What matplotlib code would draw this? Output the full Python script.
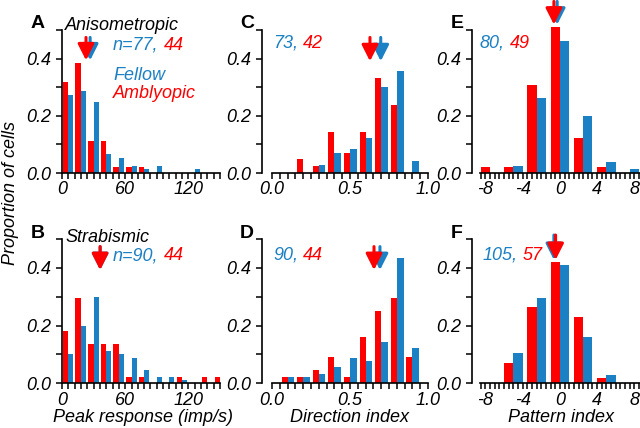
import numpy as np
import matplotlib.pyplot as plt

plt.rcParams['font.family'] = ['Liberation Sans', 'DejaVu Sans']
plt.rcParams['font.style'] = 'italic'
plt.rcParams['font.size'] = 13
plt.rcParams['axes.unicode_minus'] = False

RED = '#ff0000'
BLUE = '#1b80c4'

# cell counts per bin (amblyopic = red, fellow = blue)
peak_centers = np.arange(6, 156, 12)
aniso_peak_amb = [14, 17, 5, 5, 1, 1, 1, 0, 0, 0, 0, 0, 0]
aniso_peak_fel = [21, 22, 19, 5, 4, 2, 1, 2, 0, 0, 1, 0, 0]
strab_peak_amb = [8, 13, 6, 6, 6, 1, 1, 0, 0, 1, 0, 1, 1]
strab_peak_fel = [9, 18, 27, 10, 9, 8, 4, 2, 2, 1, 0, 0, 0]

dir_centers = np.round(np.arange(0.1, 0.95, 0.1), 2)
aniso_dir_amb = [0, 2, 1, 6, 3, 6, 14, 10, 0]
aniso_dir_fel = [0, 0, 2, 5, 6, 9, 22, 26, 3]
strab_dir_amb = [1, 1, 2, 4, 1, 7, 11, 13, 4]
strab_dir_fel = [2, 2, 3, 5, 8, 7, 13, 39, 11]

pat_centers = np.arange(-7.5, 8, 2.5)
aniso_pat_amb = [1, 1, 15, 25, 6, 1, 0]
aniso_pat_fel = [0, 2, 21, 37, 16, 3, 1]
strab_pat_amb = [0, 4, 15, 24, 13, 1, 0]
strab_pat_fel = [0, 11, 31, 43, 17, 3, 0]

# population means shown by arrows (amblyopic, fellow)
aniso_peak_mean = (22.8, 26.7)
strab_peak_mean = (36.2, 36.2)
aniso_dir_mean = (0.628, 0.697)
strab_dir_mean = (0.654, 0.692)
aniso_pat_mean = (-0.64, -0.29)
strab_pat_mean = (-0.46, -0.64)

W, H = 640, 428
fig = plt.figure(figsize=(W / 100, H / 100), dpi=100)
renderer = fig.canvas.get_renderer()


def px_axes(left, right, bottom, top):
    return fig.add_axes([left / W, 1 - bottom / H, (right - left) / W, (bottom - top) / H])


def fig_text(x, y, s, **kw):
    return fig.text(x / W, 1 - y / H, s, **kw)


def draw_panel(ax, centers, amb, fel, wr, wb, xlim, bounds, major, labels, minor):
    amb = np.array(amb) / sum(amb)
    fel = np.array(fel) / sum(fel)
    ax.bar(centers, amb, width=-wr, align='edge', color=RED, clip_on=False, zorder=2)
    ax.bar(centers, fel, width=wb, align='edge', color=BLUE, clip_on=False, zorder=2)
    ax.set_xlim(*xlim)
    ax.set_ylim(0, 0.5)
    for s in ['top', 'right']:
        ax.spines[s].set_visible(False)
    ax.spines['left'].set_bounds(0, 0.5)
    ax.spines['bottom'].set_bounds(*bounds)
    for s in ['left', 'bottom']:
        ax.spines[s].set_linewidth(1.2)
    ax.set_yticks([0, 0.2, 0.4])
    ax.set_yticklabels(['0.0', '0.2', '0.4'])
    ax.set_yticks([0.1, 0.3, 0.5], minor=True)
    ax.set_xticks(major)
    ax.set_xticklabels(labels)
    ax.set_xticks(minor, minor=True)
    ax.tick_params(which='both', direction='out', length=4, width=1.1)
    ax.tick_params(axis='y', pad=4)
    ax.tick_params(axis='x', pad=2)
    ax.patch.set_visible(False)


def arrows(ax, means, tip, top):
    for x, c in [(means[1], BLUE), (means[0], RED)]:
        ax.annotate('', xy=(x, tip), xytext=(x, top),
                    arrowprops=dict(arrowstyle='-|>,head_width=0.38,head_length=0.75',
                                    color=c, lw=2.2, shrinkA=0, shrinkB=0),
                    annotation_clip=False)


def two_color(x, y, s1, s2):
    # blue part then red part, spaced like one string
    full = fig_text(x, y, s1 + ' ' + s2, va='center', alpha=0)
    tail = fig_text(x, y, s2, va='center', alpha=0)
    shift = full.get_window_extent(renderer).width - tail.get_window_extent(renderer).width
    full.remove()
    tail.remove()
    fig_text(x, y, s1, va='center', color=BLUE)
    fig_text(x + shift, y, s2, va='center', color=RED)


rows = [(173, 30), (383.3, 238.8)]
peak_major, peak_labels = [0, 60, 120], ['0', '60', '120']
peak_minor = np.arange(0, 151, 6)
dir_major, dir_labels = [0, 0.5, 1.0], ['0.0', '0.5', '1.0']
dir_minor = np.linspace(0, 1, 21)
pat_major, pat_labels = [-8, -4, 0, 4, 8], ['-8', '-4', '0', '4', '8']
pat_minor = np.arange(-8.5, 8.6, 0.5)

axA = px_axes(62, 220, *rows[0])
axB = px_axes(62, 220, *rows[1])
axC = px_axes(262, 428, *rows[0])
axD = px_axes(262, 428, *rows[1])
axE = px_axes(472, 640, *rows[0])
axF = px_axes(472, 640, *rows[1])

draw_panel(axA, peak_centers, aniso_peak_amb, aniso_peak_fel, 5.2, 4.8,
           (0, 150), (0, 150), peak_major, peak_labels, peak_minor)
draw_panel(axB, peak_centers, strab_peak_amb, strab_peak_fel, 5.2, 4.8,
           (0, 150), (0, 150), peak_major, peak_labels, peak_minor)
draw_panel(axC, dir_centers, aniso_dir_amb, aniso_dir_fel, 0.038, 0.043,
           (-0.064, 1.0), (0, 1.0), dir_major, dir_labels, dir_minor)
draw_panel(axD, dir_centers, strab_dir_amb, strab_dir_fel, 0.038, 0.043,
           (-0.064, 1.0), (0, 1.0), dir_major, dir_labels, dir_minor)
draw_panel(axE, pat_centers, aniso_pat_amb, aniso_pat_fel, 1.0, 1.0,
           (-9.43, 8.6), (-8.6, 8.6), pat_major, pat_labels, pat_minor)
draw_panel(axF, pat_centers, strab_pat_amb, strab_pat_fel, 1.0, 1.0,
           (-9.43, 8.6), (-8.6, 8.6), pat_major, pat_labels, pat_minor)

arrows(axA, aniso_peak_mean, 0.394, 0.474)
arrows(axB, strab_peak_mean, 0.392, 0.473)
arrows(axC, aniso_dir_mean, 0.391, 0.474)
arrows(axD, strab_dir_mean, 0.392, 0.473)
arrows(axE, aniso_pat_mean, 0.519, 0.6)
arrows(axF, strab_pat_mean, 0.427, 0.513)

# panel letters
for (x, y), letter in zip([(38, 24), (38, 233), (247, 24), (247, 233), (457, 24), (457, 233)],
                          'ABCDEF'):
    fig_text(x, y, letter, ha='center', va='center', style='normal',
             fontweight='bold', fontsize=14)

fig_text(65, 25, 'Anisometropic', va='center')
fig_text(65, 237, 'Strabismic', va='center')
fig_text(113, 76, 'Fellow', va='center', color=BLUE)
fig_text(113, 93, 'Amblyopic', va='center', color=RED)

two_color(113, 45, 'n=77,', '44')
two_color(113, 256, 'n=90,', '44')
two_color(273, 43, '73,', '42')
two_color(273, 255, '90,', '44')
two_color(480, 43, '80,', '49')
two_color(483, 255, '105,', '57')

fig_text(11, 193, 'Proportion of cells', rotation=90, ha='center', va='center')
fig_text(143, 418, 'Peak response (imp/s)', ha='center', va='center')
fig_text(350, 418, 'Direction index', ha='center', va='center')
fig_text(561, 418, 'Pattern index', ha='center', va='center')

fig.savefig('out.png', dpi=100)
